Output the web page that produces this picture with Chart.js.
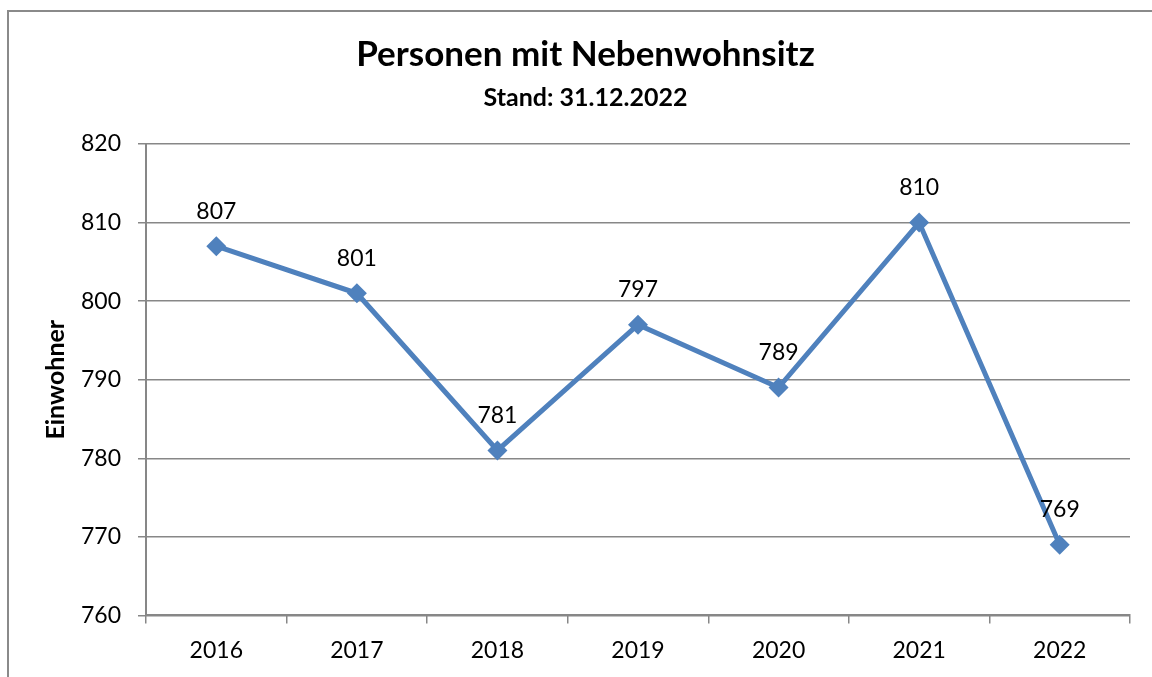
<!DOCTYPE html>
<html>
<head>
<meta charset="utf-8">
<script src="https://cdn.jsdelivr.net/npm/chart.js@4"></script>
<style>
  html, body { margin: 0; padding: 0; background: #fff; }
  #wrap { width: 1152px; height: 677px; position: relative; }
</style>
</head>
<body>
<div id="wrap"><canvas id="myChart"></canvas></div>
<script>
let years = ['2016', '2017', '2018', '2019', '2020', '2021', '2022'];
let residents = [807, 801, 781, 797, 789, 810, 769];
let yTicks = [760, 770, 780, 790, 800, 810, 820];

let lineColor = '#4F81BD';
let gridColor = '#878787';
let fontName = 'Lato, "Open Sans", sans-serif';

// frame around the chart (only left and top edges are visible in the window)
let framePlugin = {
    id: 'frame',
    beforeDraw(chart) {
        let c = chart.ctx;
        c.save();
        c.strokeStyle = '#8a8a8a';
        c.lineWidth = 2;
        c.beginPath();
        c.moveTo(8, 677);
        c.lineTo(8, 11);
        c.lineTo(1152, 11);
        c.stroke();
        c.restore();
    }
};

// value labels above each point
let valueLabels = {
    id: 'valueLabels',
    afterDatasetsDraw(chart) {
        let c = chart.ctx;
        let meta = chart.getDatasetMeta(0);
        c.save();
        c.font = '23px ' + fontName;
        c.fillStyle = '#000';
        c.textAlign = 'center';
        c.textBaseline = 'middle';
        meta.data.forEach((pt, i) => {
            c.fillText(chart.data.datasets[0].data[i], pt.x, pt.y - 35);
        });
        c.restore();
    }
};

let ctx = document.getElementById('myChart').getContext('2d');
let chart = new Chart(ctx, {
    type: 'line',
    data: {
        labels: years,
        datasets: [{
            data: residents,
            borderColor: lineColor,
            backgroundColor: lineColor,
            borderWidth: 5,
            pointStyle: 'rectRot',
            pointRadius: 10,
            pointHoverRadius: 10,
            pointBorderWidth: 0,
            tension: 0
        }]
    },
    options: {
        responsive: true,
        maintainAspectRatio: false,
        animation: false,
        layout: { padding: { left: 41, right: 22, top: 0, bottom: 0 } },
        plugins: {
            legend: { display: false },
            tooltip: { enabled: false },
            title: {
                display: true,
                text: 'Personen mit Nebenwohnsitz',
                color: '#000',
                font: { family: fontName, size: 35, weight: 'bold' },
                padding: { top: 34, bottom: 7 }
            },
            subtitle: {
                display: true,
                text: 'Stand: 31.12.2022',
                color: '#000',
                font: { family: fontName, size: 25, weight: 'bold' },
                padding: { top: 0, bottom: 31 }
            }
        },
        scales: {
            x: {
                offset: true,
                grid: {
                    display: true,
                    offset: true,
                    drawOnChartArea: false,
                    drawTicks: true,
                    tickLength: 8,
                    color: gridColor,
                    lineWidth: 1.5
                },
                border: { display: true, color: gridColor, width: 2 },
                ticks: {
                    color: '#000',
                    padding: 13,
                    font: { family: fontName, size: 23 }
                }
            },
            y: {
                min: 760,
                max: 820,
                afterBuildTicks(scale) {
                    scale.ticks = yTicks.map(v => ({ value: v }));
                },
                grid: {
                    color: gridColor,
                    lineWidth: 1.5,
                    tickLength: 8
                },
                border: { display: true, color: gridColor, width: 2 },
                ticks: {
                    color: '#000',
                    padding: 17,
                    font: { family: fontName, size: 23 }
                },
                title: {
                    display: true,
                    text: 'Einwohner',
                    color: '#000',
                    font: { family: fontName, size: 25, weight: 'bold' },
                    padding: { top: 0, bottom: -7 }
                }
            }
        }
    },
    plugins: [framePlugin, valueLabels]
});
</script>
</body>
</html>
